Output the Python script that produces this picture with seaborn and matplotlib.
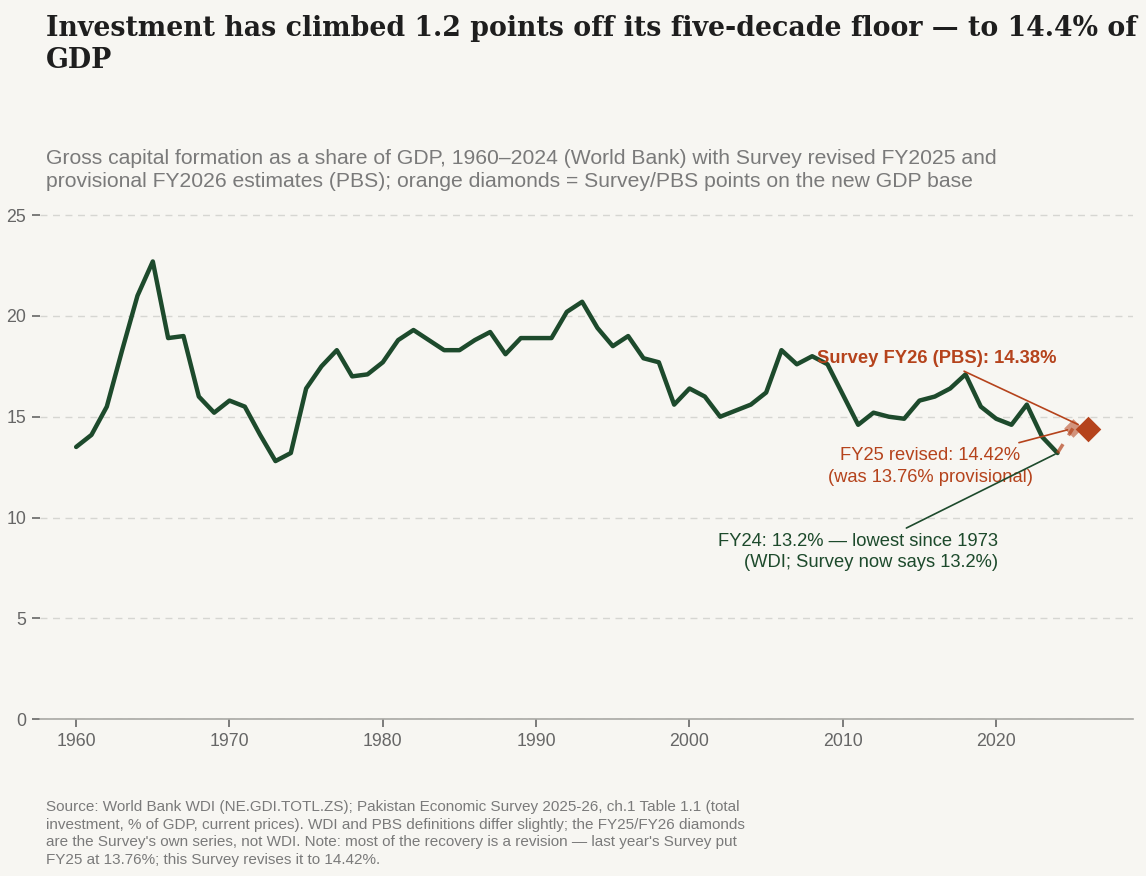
import numpy as np
import pandas as pd
import matplotlib
matplotlib.use("Agg")
import matplotlib.pyplot as plt
import seaborn as sns

# WDI gross capital formation, % of GDP
years = list(range(1960, 2025))
gcf_share = [13.5, 14.1, 15.5, 18.3, 21.0, 22.7, 18.9, 19.0, 16.0, 15.2,
             15.8, 15.5, 14.1, 12.8, 13.2, 16.4, 17.5, 18.3, 17.0, 17.1,
             17.7, 18.8, 19.3, 18.8, 18.3, 18.3, 18.8, 19.2, 18.1, 18.9,
             18.9, 18.9, 20.2, 20.7, 19.4, 18.5, 19.0, 17.9, 17.7, 15.6,
             16.4, 16.0, 15.0, 15.3, 15.6, 16.2, 18.3, 17.6, 18.0, 17.6,
             16.1, 14.6, 15.2, 15.0, 14.9, 15.8, 16.0, 16.4, 17.1, 15.5,
             14.9, 14.6, 15.6, 14.0, 13.2]

# Survey / PBS points on the new GDP base
survey_years = [2025, 2026]
survey_share = [14.42, 14.38]

BG = "#f7f6f2"
GREEN = "#1d4a2c"
ORANGE = "#b5431c"

sns.set_theme(style="white")
plt.rcParams["font.family"] = ["Liberation Sans", "DejaVu Sans"]

df = pd.DataFrame({"year": years, "share": gcf_share})

fig = plt.figure(figsize=(11.46, 8.76), dpi=100, facecolor=BG)
ax = fig.add_axes([0.035, 0.179, 0.954, 0.587])
ax.set_facecolor(BG)

sns.lineplot(data=df, x="year", y="share", color=GREEN, linewidth=3.2, ax=ax)

# dashed link from FY24 to the revised FY25 point
ax.plot([years[-1], survey_years[0]], [gcf_share[-1], survey_share[0]],
        color=ORANGE, linewidth=2.5, linestyle=(0, (3, 3)), alpha=0.7)
ax.scatter(survey_years[:1], survey_share[:1], marker="D", s=90, color=ORANGE,
           alpha=0.55, zorder=4, linewidths=0)
ax.scatter(survey_years[1:], survey_share[1:], marker="D", s=170, color=ORANGE,
           zorder=5, linewidths=0)

ax.set_xlim(1957.65, 2028.95)
ax.set_ylim(0, 25.5)
ax.set_yticks([0, 5, 10, 15, 20, 25])
ax.set_xticks([1960, 1970, 1980, 1990, 2000, 2010, 2020])
ax.set_xlabel("")
ax.set_ylabel("")
ax.grid(axis="y", color="#d6d6d2", linestyle=(0, (5, 4)), linewidth=1)
ax.grid(axis="x", visible=False)
for side in ["left", "right", "top"]:
    ax.spines[side].set_visible(False)
ax.spines["bottom"].set_color("#a8a8a4")
ax.spines["bottom"].set_linewidth(1.2)
ax.tick_params(axis="both", colors="#666666", labelsize=12.8, length=6,
               width=1.2, direction="out", pad=4)
ax.tick_params(axis="x", bottom=True)
ax.tick_params(axis="y", left=True)

# annotations
ax.annotate("Survey FY26 (PBS): 14.38%", xy=(survey_years[1], survey_share[1]),
            xytext=(2016.1, 17.9), ha="center", va="center", fontsize=13.2,
            fontweight="bold", color=ORANGE,
            arrowprops=dict(arrowstyle="-", color=ORANGE, lw=1.2, shrinkA=2, shrinkB=8))
ax.annotate("FY25 revised: 14.42%\n(was 13.76% provisional)",
            xy=(survey_years[0], survey_share[0]), xytext=(2015.7, 12.55),
            ha="center", va="center", fontsize=13.2, color=ORANGE, linespacing=1.38,
            arrowprops=dict(arrowstyle="-", color=ORANGE, lw=1.2, shrinkA=2, shrinkB=4))
ax.annotate("FY24: 13.2% — lowest since 1973\n(WDI; Survey now says 13.2%)",
            xy=(years[-1], gcf_share[-1]), xytext=(2020.15, 8.3),
            ha="right", va="center", fontsize=13.2, color=GREEN, linespacing=1.35,
            arrowprops=dict(arrowstyle="-", color=GREEN, lw=1.2, shrinkA=2, shrinkB=2))

fig.text(0.040, 0.983, "Investment has climbed 1.2 points off its five-decade floor — to 14.4% of\nGDP",
         fontsize=19.3, fontweight="bold", family=["DejaVu Serif"], color="#1e1e1e",
         ha="left", va="top", linespacing=1.25)
fig.text(0.040, 0.830, "Gross capital formation as a share of GDP, 1960–2024 (World Bank) with Survey revised FY2025 and\n"
         "provisional FY2026 estimates (PBS); orange diamonds = Survey/PBS points on the new GDP base",
         fontsize=15.2, color="#7a7a7a", ha="left", va="top", linespacing=1.28)
fig.text(0.040, 0.0865, "Source: World Bank WDI (NE.GDI.TOTL.ZS); Pakistan Economic Survey 2025-26, ch.1 Table 1.1 (total\n"
         "investment, % of GDP, current prices). WDI and PBS definitions differ slightly; the FY25/FY26 diamonds\n"
         "are the Survey's own series, not WDI. Note: most of the recovery is a revision — last year's Survey put\n"
         "FY25 at 13.76%; this Survey revises it to 14.42%.",
         fontsize=11, color="#7a7a7a", ha="left", va="top", linespacing=1.33)

fig.savefig("out.png", dpi=100, facecolor=BG)
